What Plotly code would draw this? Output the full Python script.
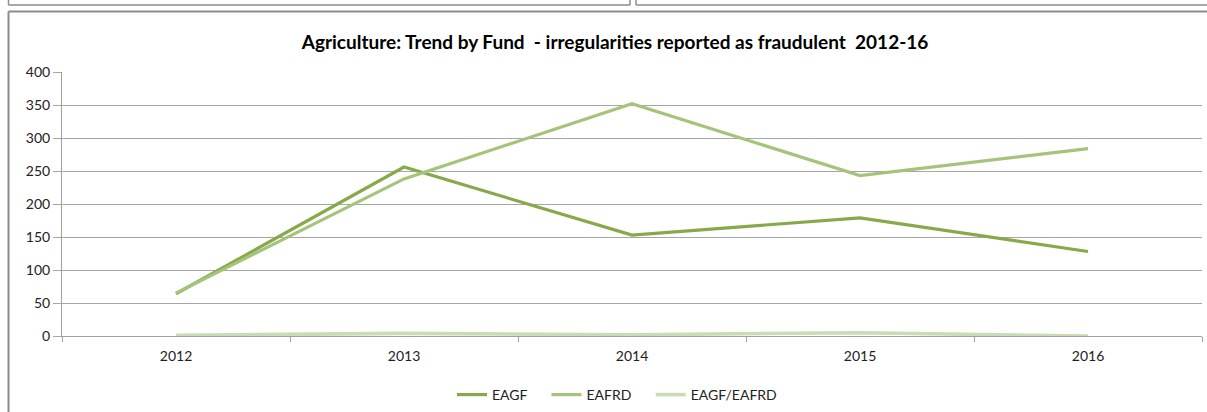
import plotly.graph_objects as go

years = ["2012", "2013", "2014", "2015", "2016"]
eagf = [64, 256, 153, 179, 128]
eafrd = [65, 238, 352, 243, 284]
eagf_eafrd = [1, 4, 2, 5, 0]

series_names = ["EAGF", "EAFRD", "EAGF/EAFRD"]
series_colors = ["#87A94A", "#A5C47B", "#C9DCB4"]
series_values = [eagf, eafrd, eagf_eafrd]

W, H = 1207, 412
L, R, T, B = 62, 5, 72, 76
PW = W - L - R
PH = H - T - B


def px(x):
    return (x - L) / PW


def py(y):
    return (H - B - y) / PH


fig = go.Figure()
for i, (name, color, vals) in enumerate(zip(series_names, series_colors, series_values)):
    pad = "\u00a0" * 4 if i < len(series_names) - 1 else ""
    fig.add_trace(go.Scatter(
        x=years, y=vals, name=name + pad, mode="lines",
        line=dict(color=color, width=3.2 if name != "EAGF/EAFRD" else 3.6),
    ))

frame = "#8C8C8C"
shapes = [
    dict(type="line", xref="paper", yref="paper", x0=px(8.5), x1=px(8.5), y0=py(412), y1=py(11.5),
         line=dict(color=frame, width=2)),
    dict(type="line", xref="paper", yref="paper", x0=px(8.5), x1=px(1210), y0=py(11.5), y1=py(11.5),
         line=dict(color=frame, width=2)),
    dict(type="line", xref="paper", yref="paper", x0=px(8.5), x1=px(630), y0=py(5), y1=py(5),
         line=dict(color=frame, width=1.5)),
    dict(type="line", xref="paper", yref="paper", x0=px(636), x1=px(1210), y0=py(5), y1=py(5),
         line=dict(color=frame, width=1.5)),
    dict(type="line", xref="paper", yref="paper", x0=px(8.5), x1=px(8.5), y0=py(0), y1=py(5),
         line=dict(color=frame, width=1.5)),
    dict(type="line", xref="paper", yref="paper", x0=px(630), x1=px(630), y0=py(0), y1=py(5),
         line=dict(color=frame, width=1.5)),
    dict(type="line", xref="paper", yref="paper", x0=px(636), x1=px(636), y0=py(0), y1=py(5),
         line=dict(color=frame, width=1.5)),
]

fig.update_layout(
    width=W, height=H,
    margin=dict(l=L, r=R, t=T, b=B, autoexpand=False),
    paper_bgcolor="white", plot_bgcolor="white",
    font=dict(family="Lato, 'Open Sans', sans-serif", size=13, color="#222222"),
    title=dict(
        text="<b>Agriculture: Trend by Fund  - irregularities reported as fraudulent  2012-16</b>",
        x=615 / W, xanchor="center", xref="container",
        y=1 - 42 / H, yanchor="middle", yref="container",
        font=dict(family="Lato, 'Open Sans', sans-serif", size=19, color="#000000"),
    ),
    xaxis=dict(
        type="category", range=[-0.5, 4.5], tickson="boundaries",
        ticks="outside", ticklen=5, tickcolor="#A0A0A0",
        showline=True, linecolor="#A0A0A0", linewidth=1,
        showgrid=False, zeroline=False, ticklabelstandoff=7,
        tickfont=dict(size=14, color="#222222"),
    ),
    yaxis=dict(
        range=[0, 400], dtick=50, ticks="outside", ticklen=8, tickcolor="#A6A6A6",
        showline=True, linecolor="#A0A0A0", linewidth=1,
        showgrid=True, gridcolor="#A6A6A6", gridwidth=1,
        zeroline=False, tickfont=dict(size=14, color="#222222"),
    ),
    legend=dict(
        orientation="h", x=617 / W, xref="container", xanchor="center",
        y=1 - 395 / H, yref="container", yanchor="middle",
        font=dict(size=14, color="#222222"), itemwidth=30,
        bgcolor="rgba(0,0,0,0)",
    ),
    shapes=shapes,
)

fig.write_html("out.html", config={"displayModeBar": False},
               post_script="document.body.style.margin='0';")
